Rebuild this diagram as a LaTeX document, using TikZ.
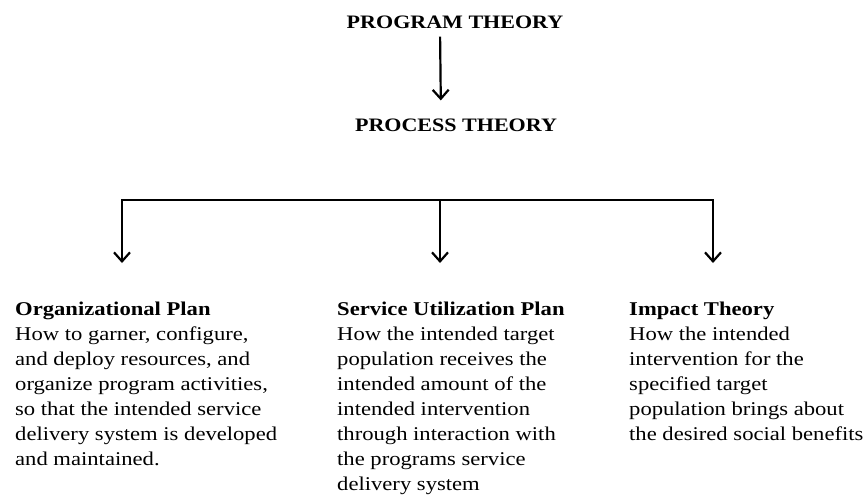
\documentclass[tikz,border=0pt]{standalone}
\usepackage{fontspec}
\setmainfont[FakeStretch=1.16]{Liberation Serif}
\usetikzlibrary{arrows.meta, positioning}

\begin{document}
\begin{tikzpicture}[x=1pt, y=-1pt,
    title/.style={font=\fontsize{19}{23}\selectfont\bfseries, inner sep=0pt},
    desc/.style={anchor=north west, align=left, inner sep=0pt, font=\fontsize{19.5}{25}\selectfont},
    link/.style={line width=2.2pt},
    arr/.style={link, -{Straight Barb[length=9pt, width=16pt]}}]
    \useasboundingbox (0,0) rectangle (864,501);
    % titles
    \node[title] (program) at (455,22) {PROGRAM THEORY};
    \node[title] (process) at (456,125) {PROCESS THEORY};
    \draw[arr, shorten <=8pt, shorten >=18pt] ([xshift=-15pt]program.south) -- ([xshift=-15pt]process.north);
    % the three parts
    \node[desc] (org) at (15,302) {\textbf{Organizational Plan}\\How to garner, configure,\\and deploy resources, and\\organize program activities,\\so that the intended service\\delivery system is developed\\and maintained.};
    \node[desc] (svc) at (337,302) {\textbf{Service Utilization Plan}\\How the intended target\\population receives the\\intended amount of the\\intended intervention\\through interaction with\\the programs service\\delivery system};
    \node[desc] (impact) at (629,302) {\textbf{Impact Theory}\\How the intended\\intervention for the\\specified target\\population brings about\\the desired social benefits};
    % bar and branches
    \coordinate (jl) at (122,200);
    \coordinate (jm) at (440,200);
    \coordinate (jr) at (713,200);
    \draw[link, line cap=rect] (jl) -- (jr);
    \foreach \j/\n in {jl/org, jm/svc, jr/impact} {
      \draw[arr, shorten >=39pt] (\j) -- (\j |- \n.north);
    }
\end{tikzpicture}
\end{document}
